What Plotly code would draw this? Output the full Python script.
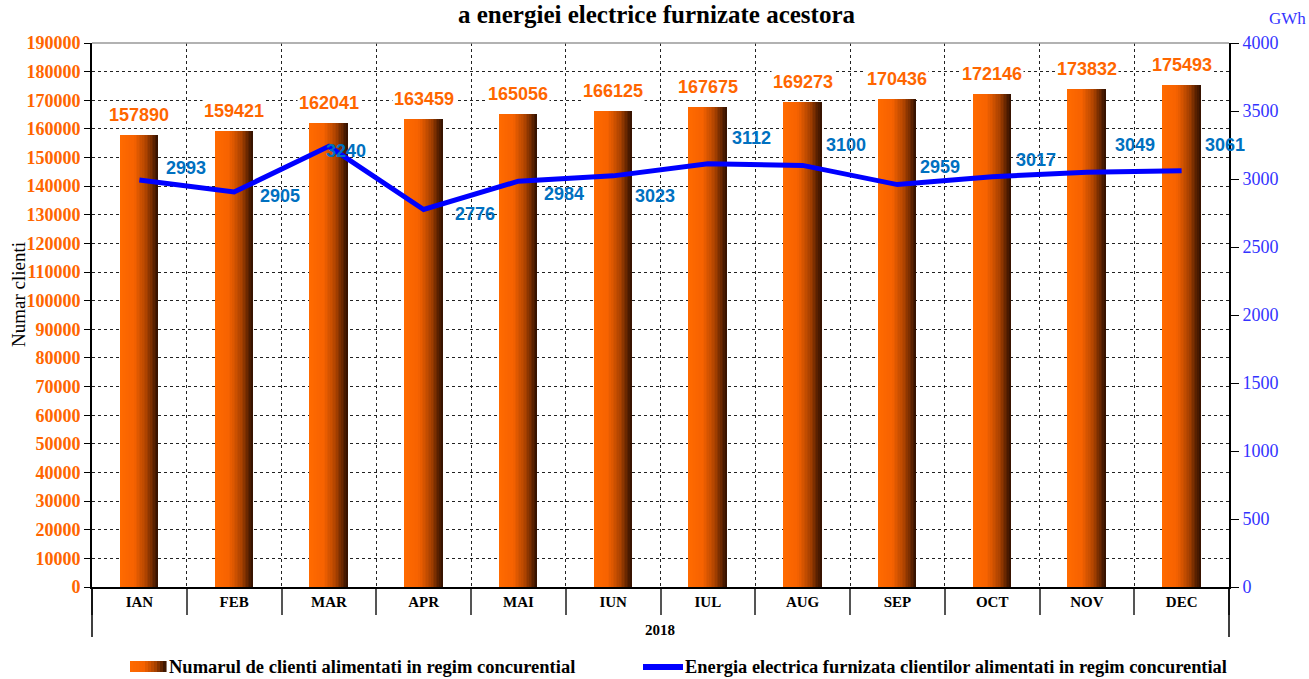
import plotly.graph_objects as go

# ---- data -------------------------------------------------------------
months = ["IAN", "FEB", "MAR", "APR", "MAI", "IUN",
          "IUL", "AUG", "SEP", "OCT", "NOV", "DEC"]
clients = [157890, 159421, 162041, 163459, 165056, 166125,
           167675, 169273, 170436, 172146, 173832, 175493]
energy_gwh = [2993, 2905, 3240, 2776, 2984, 3023,
              3112, 3100, 2959, 3017, 3049, 3061]
year_label = "2018"

# pixel offsets of the energy value labels relative to their points (dx, dy)
energy_label_offsets = [(47, -12), (46, 4), (17, 5), (51, 5), (46, 13), (42, 20),
                        (44, -26), (43, -20), (43, -18), (44, -17), (48, -27), (43, -26)]

ORANGE = "#FF6600"
LINE_BLUE = "#0000FF"
LABEL_BLUE = "#0070C0"
AXIS_BLUE = "#3333FF"
SERIF = "Liberation Serif"
SANS = "Liberation Sans"

PLOT_L, PLOT_R, PLOT_T, PLOT_B = 92, 1229, 43, 587
PW, PH = PLOT_R - PLOT_L, PLOT_B - PLOT_T


def px_x(x):
    return (x - PLOT_L) / PW


def px_y(y):
    return (PLOT_B - y) / PH


# horizontal orange -> dark brown gradient used for the bars
stops = [(0.0, (255, 106, 0)), (0.38, (246, 98, 0)), (0.7, (170, 66, 0)), (1.0, (48, 16, 0))]


def grad(t):
    for (t0, c0), (t1, c1) in zip(stops[:-1], stops[1:]):
        if t <= t1:
            f = (t - t0) / (t1 - t0) if t1 > t0 else 0
            return "rgb(%d,%d,%d)" % tuple(round(a + (b - a) * f) for a, b in zip(c0, c1))
    return "rgb(%d,%d,%d)" % stops[-1][1]


fig = go.Figure()

# bars drawn as thin vertical strips to give the shaded cylinder look
BAR_W = 0.4
N_STRIPS = 24
sw = BAR_W / N_STRIPS
for i in range(N_STRIPS):
    fig.add_trace(go.Bar(
        x=months, y=clients, width=sw * 1.05, offset=-BAR_W / 2 + i * sw,
        marker=dict(color=grad((i + 0.5) / N_STRIPS), line=dict(width=0)),
        showlegend=False, hoverinfo="skip" if i else "x+y",
    ))

fig.add_trace(go.Scatter(
    x=months, y=energy_gwh, yaxis="y2", mode="lines",
    line=dict(color=LINE_BLUE, width=5), showlegend=False,
))

annotations = []
for m, v in zip(months, clients):
    annotations.append(dict(
        x=m, y=v, xref="x", yref="y", text=str(v), showarrow=False,
        yanchor="middle", yshift=20, bgcolor="white",
        font=dict(family=SANS, size=18, color=ORANGE, weight="bold"),
    ))
for m, v, (dx, dy) in zip(months, energy_gwh, energy_label_offsets):
    annotations.append(dict(
        x=m, y=v, xref="x", yref="y2", text=str(v), showarrow=False,
        xshift=dx, yshift=-dy,
        font=dict(family=SANS, size=18, color=LABEL_BLUE, weight="bold"),
    ))

# title, axis captions, group label
annotations += [
    dict(x=px_x(657), y=px_y(15), xref="paper", yref="paper",
         text="a energiei electrice furnizate acestora", showarrow=False,
         xanchor="center", yanchor="middle",
         font=dict(family=SERIF, size=25, color="black", weight="bold")),
    dict(x=px_x(1267), y=px_y(18), xref="paper", yref="paper", text="GWh", showarrow=False,
         xanchor="left", yanchor="middle",
         font=dict(family=SERIF, size=17, color=AXIS_BLUE)),
    dict(x=px_x(18), y=px_y(295), xref="paper", yref="paper", text="Numar clienti", textangle=-90,
         showarrow=False, xanchor="center", yanchor="middle",
         font=dict(family=SERIF, size=19, color="black")),
    dict(x=px_x(660), y=px_y(630), xref="paper", yref="paper", text=year_label, showarrow=False,
         xanchor="center", yanchor="middle",
         font=dict(family=SERIF, size=15, color="black", weight="bold")),
]

shapes = [
    # outer vertical dividers reaching the group label row
    dict(type="line", xref="paper", yref="paper", x0=0, x1=0, y0=0, y1=px_y(637),
         line=dict(color="black", width=1.5)),
    dict(type="line", xref="paper", yref="paper", x0=1, x1=1, y0=0, y1=px_y(637),
         line=dict(color="black", width=1.5)),
    # top border of the plot area
    dict(type="line", xref="paper", yref="paper", x0=0, x1=1, y0=1, y1=1,
         line=dict(color="#999999", width=1.5)),
]

# legend: gradient swatch + text, line sample + text
LEG_Y = px_y(667)
sw_x0, sw_x1 = px_x(130), px_x(166)
n_leg = 12
for i in range(n_leg):
    shapes.append(dict(type="rect", xref="paper", yref="paper",
                       x0=sw_x0 + (sw_x1 - sw_x0) * i / n_leg,
                       x1=sw_x0 + (sw_x1 - sw_x0) * (i + 1) / n_leg + 0.0005,
                       y0=px_y(672), y1=px_y(661),
                       fillcolor=grad((i + 0.5) / n_leg), line=dict(width=0)))
shapes.append(dict(type="line", xref="paper", yref="paper",
                   x0=px_x(643), x1=px_x(683), y0=LEG_Y, y1=LEG_Y,
                   line=dict(color=LINE_BLUE, width=6)))

annotations += [
    dict(x=px_x(167), y=LEG_Y, xref="paper", yref="paper",
         text="Numarul de clienti alimentati in regim concurential",
         showarrow=False, xanchor="left", yanchor="middle",
         font=dict(family=SERIF, size=18.5, color="black", weight="bold")),
    dict(x=px_x(683), y=LEG_Y, xref="paper", yref="paper",
         text="Energia electrica furnizata clientilor alimentati in regim concurential",
         showarrow=False, xanchor="left", yanchor="middle",
         font=dict(family=SERIF, size=18.4, color="black", weight="bold")),
]

fig.update_layout(
    width=1309, height=679,
    margin=dict(l=PLOT_L, r=1309 - PLOT_R, t=PLOT_T, b=679 - PLOT_B),
    paper_bgcolor="white", plot_bgcolor="white",
    barmode="overlay", bargap=0,
    showlegend=False,
    annotations=annotations,
    shapes=shapes,
    xaxis=dict(
        type="category", tickson="boundaries", ticks="outside", ticklen=26,
        tickcolor="#555555", tickwidth=1.5,
        showgrid=True, gridcolor="#222222", griddash="dot", gridwidth=1,
        showline=True, linecolor="black", linewidth=2,
        tickfont=dict(family=SERIF, size=15, color="black", weight="bold"),
        range=[-0.5, 11.5], fixedrange=True,
    ),
    yaxis=dict(
        range=[0, 190000], dtick=10000, tick0=0, tickformat="d",
        showgrid=True, gridcolor="#222222", griddash="dot", gridwidth=1,
        showline=True, linecolor="black", linewidth=2,
        ticks="outside", ticklen=6, tickcolor="black",
        tickfont=dict(family=SERIF, size=18, color=ORANGE, weight="bold"),
        zeroline=False,
    ),
    yaxis2=dict(
        overlaying="y", side="right", range=[0, 4000], dtick=500, tick0=0,
        showgrid=False, zeroline=False,
        showline=True, linecolor="black", linewidth=2,
        ticks="outside", ticklen=8, tickcolor="black",
        tickfont=dict(family=SERIF, size=18, color=AXIS_BLUE),
    ),
)

fig.write_html("out.html")
